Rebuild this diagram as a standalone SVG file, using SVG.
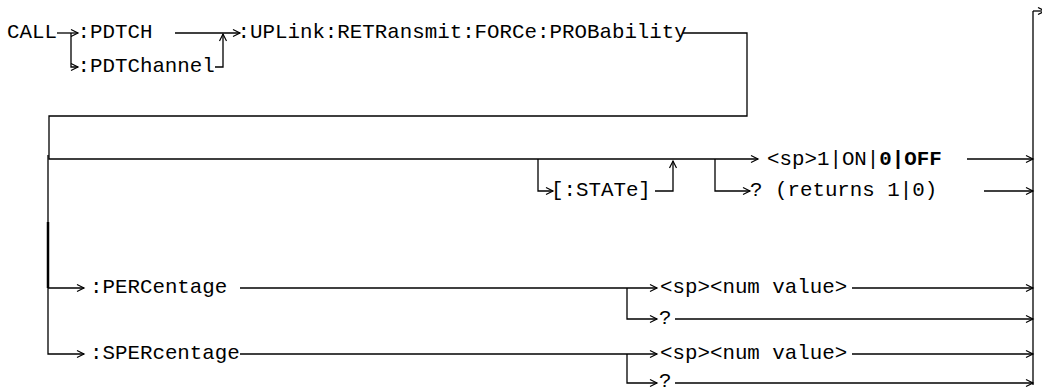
<svg xmlns="http://www.w3.org/2000/svg" width="1042" height="392" viewBox="0 0 1042 392">
<defs>
<marker id="ah" markerUnits="userSpaceOnUse" markerWidth="10" markerHeight="10" refX="8" refY="5" orient="auto" viewBox="0 0 10 10"><path d="M1,1.5 L8,5 L1,8.5" fill="none" stroke="#000" stroke-width="1.2"/></marker>
</defs>
<style>
text { font-family: "Liberation Mono", "Courier New", monospace; font-size: 20.8px; fill: #000; }
.c { fill: none; stroke: #000; stroke-width: 1.3; }
.a { marker-end: url(#ah); }
.b { font-weight: bold; }
</style>
<rect width="1042" height="392" fill="#fff"/>
<g id="connectors">
<path class="c a" d="M57,33 H78"/>
<path class="c a" d="M71,33 V67 H78"/>
<path class="c a" d="M175,33 H240"/>
<path class="c a" d="M215,67 H223 V34"/>
<path class="c a" d="M683,33 H747 V116 H49 V159 H758"/>
<path class="c a" d="M538,159 V191 H553"/>
<path class="c a" d="M655,191 H673 V161"/>
<path class="c a" d="M715,159 V191 H750"/>
<path class="c a" d="M967,159 H1033"/>
<path class="c a" d="M984,191 H1033"/>
<path class="c a" d="M48,155 V354 H84"/>
<path class="c" d="M48,222 V288" style="stroke-width:2.5"/>
<path class="c a" d="M48,288 H84"/>
<path class="c a" d="M240,288 H657"/>
<path class="c a" d="M627,288 V319 H657"/>
<path class="c a" d="M852,288 H1033"/>
<path class="c a" d="M675,319 H1033"/>
<path class="c a" d="M240,354 H657"/>
<path class="c a" d="M627,354 V383 H657"/>
<path class="c a" d="M852,354 H1033"/>
<path class="c a" d="M675,383 H1033"/>
<path class="c" d="M1033,385 V11"/>
<path class="c a" d="M1033,11 H1045"/>
</g>
<g id="n-call"><text x="7" y="38">CALL</text></g>
<g id="n-pdtch"><text x="77.5" y="38">:PDTCH</text></g>
<g id="n-pdtchannel"><text x="77.5" y="72">:PDTChannel</text></g>
<g id="n-uplink"><text x="237.5" y="38">:UPLink:RETRansmit:FORCe:PROBability</text></g>
<g id="n-state"><text x="551" y="196">[:STATe]</text></g>
<g id="n-onoff"><text x="767" y="165">&lt;sp&gt;1|ON|<tspan class="b">0|OFF</tspan></text></g>
<g id="n-query1"><text x="750" y="196">? (returns 1|0)</text></g>
<g id="n-percentage"><text x="90" y="293">:PERCentage</text></g>
<g id="n-per-num"><text x="660" y="293">&lt;sp&gt;&lt;num value&gt;</text></g>
<g id="n-per-query"><text x="659" y="324">?</text></g>
<g id="n-spercentage"><text x="90" y="359">:SPERcentage</text></g>
<g id="n-sper-num"><text x="660" y="359">&lt;sp&gt;&lt;num value&gt;</text></g>
<g id="n-sper-query"><text x="659" y="387">?</text></g>
</svg>
